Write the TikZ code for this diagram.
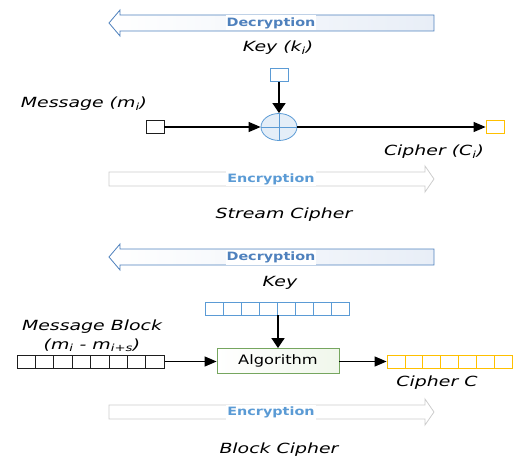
\documentclass[tikz,border=0pt]{standalone}
\usepackage{fontspec}
\setmainfont{DejaVu Sans}
\newfontfamily\lblfont[FakeStretch=1.35]{DejaVu Sans}
\newfontfamily\dirfont[FakeStretch=1.25]{DejaVu Sans}
\newfontfamily\algfont[FakeStretch=1.25]{DejaVu Sans}
\usetikzlibrary{arrows.meta,shapes.geometric}

\definecolor{decblue}{RGB}{79,129,189}
\definecolor{decfill}{RGB}{232,238,247}
\definecolor{encblue}{RGB}{91,155,213}
\definecolor{encgray}{RGB}{205,205,205}
\definecolor{keyblue}{RGB}{91,155,213}
\definecolor{xorfill}{RGB}{228,238,248}
\definecolor{cipheryellow}{RGB}{255,192,0}
\definecolor{algline}{RGB}{118,166,95}
\definecolor{algfill}{RGB}{240,247,235}
\definecolor{cellline}{RGB}{30,30,30}

\tikzset{
  lbl/.style={font=\lblfont\itshape\fontsize{14}{16}\selectfont, inner sep=0pt},
  dirtext/.style={font=\dirfont\bfseries\fontsize{11.5}{13}\selectfont, fill=white, inner sep=1pt, minimum height=15pt},
  cell/.style={draw, line width=0.8pt, minimum width=18pt, minimum height=13pt, inner sep=0pt, fill=white},
  hflow/.style={-{Triangle[length=12pt,width=10pt]}, line width=1.2pt},
  vflow/.style={-{Triangle[length=10pt,width=13pt]}, line width=1.5pt},
  decarrow/.pic={
    \path[draw=decblue, line width=0.8pt, left color=white, right color=decfill]
      (325,-8) -- (11,-8) -- (11,-13) -- (0,0) -- (11,13) -- (11,8) -- (325,8) -- cycle;
  },
  encarrow/.pic={
    \path[draw=encgray, line width=0.8pt, fill=white]
      (-325,-7) -- (-9,-7) -- (-9,-13) -- (0,0) -- (-9,13) -- (-9,7) -- (-325,7) -- cycle;
  }
}

\begin{document}
\begin{tikzpicture}[x=1pt,y=-1pt]
\useasboundingbox (0,0) rectangle (514,457);

% ---------- stream cipher ----------
\pic at (109,23) {decarrow};
\node[dirtext, text=decblue] (dec1) at (271,23) {Decryption};
\node[lbl] (keylbl1) at (278,48) {Key (k\textsubscript{i})};

\node[cell, draw=keyblue] (key1) at (279,75) {};
\node[ellipse, draw=keyblue, line width=0.8pt, fill=xorfill, minimum width=36pt, minimum height=27pt, inner sep=0pt] (xor) at (279,127) {};
\draw[keyblue, line width=0.8pt] (xor.north) -- (xor.south) (xor.west) -- (xor.east);

\node[cell, draw=cellline] (msg1) at (155,127) {};
\node[cell, draw=cipheryellow] (ciph1) at (495,127) {};
\node[lbl] (msglbl1) at (84,104) {Message (m\textsubscript{i})};
\node[lbl] (ciphlbl1) at (434,152) {Cipher (C\textsubscript{i})};

\draw[vflow] (key1) -- (xor);
\draw[hflow] (msg1) -- (xor);
\draw[hflow] (xor) -- (ciph1);

\pic at (434,179) {encarrow};
\node[dirtext, text=encblue] (enc1) at (271,179) {Encryption};
\node[lbl] (title1) at (284,215) {Stream Cipher};

% ---------- block cipher ----------
\pic at (109,257) {decarrow};
\node[dirtext, text=decblue] (dec2) at (271,257) {Decryption};
\node[lbl] (keylbl2) at (280,283) {Key};

\foreach \i in {1,...,8}
  \node[cell, draw=keyblue] (k\i) at ({205+18*(\i-0.5)},308.5) {};
\foreach \i in {1,...,8}
  \node[cell, draw=cellline, minimum width=18.4pt] (m\i) at ({17+18.4*(\i-0.5)},361.5) {};
\foreach \i in {1,...,7}
  \node[cell, draw=cipheryellow, minimum width=17.9pt] (c\i) at ({387+17.9*(\i-0.5)},361.5) {};

\node[draw=algline, line width=0.8pt, left color=white, right color=algfill, minimum width=122pt, minimum height=25pt, inner sep=0pt, font=\algfont\fontsize{13}{15}\selectfont] (alg) at (278,361) {Algorithm};

\node[lbl] (msglbl2) at (92,327) {Message Block};
\node[lbl] (msglbl3) at (92,345) {(m\textsubscript{i} - m\textsubscript{i+s})};
\node[lbl] (ciphlbl2) at (437,383) {Cipher C};

\draw[vflow] (k5.south -| alg.north) -- (alg.north);
\draw[hflow] (m8.east) -- (alg.west |- m8.east);
\draw[hflow] (alg.east |- c1.west) -- (c1.west);

\pic at (434,412) {encarrow};
\node[dirtext, text=encblue] (enc2) at (271,412) {Encryption};
\node[lbl] (title2) at (279,450) {Block Cipher};
\end{tikzpicture}
\end{document}
